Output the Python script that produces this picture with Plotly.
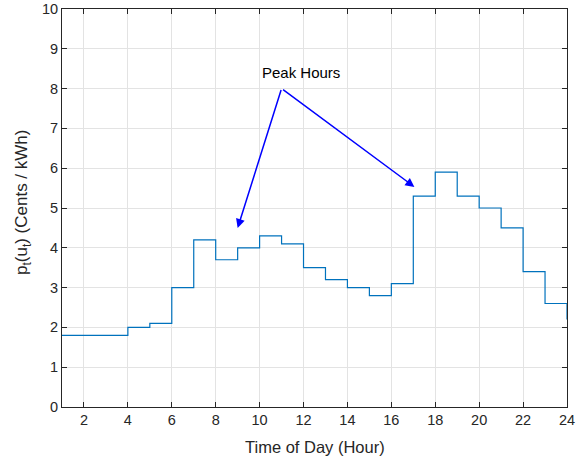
import plotly.graph_objects as go

# Hourly electricity price (cents / kWh), drawn as a staircase
hours = list(range(1, 25))
price = [1.8, 1.8, 1.8, 2.0, 2.1, 3.0, 4.2, 3.7, 4.0, 4.3, 4.1, 3.5,
         3.2, 3.0, 2.8, 3.1, 5.3, 5.9, 5.3, 5.0, 4.5, 3.4, 2.6, 2.2]

x_ticks = list(range(2, 25, 2))
y_ticks = list(range(0, 11))

x_title = "Time of Day (Hour)"
y_title = "p<sub>t</sub>(u<sub>t</sub>) (Cents / kWh)"

# Annotation: label origin and the two arrow targets
label_text = "Peak Hours"
label_pos = (11.9, 8.4)
arrow_tail = (11.0, 8.0)
arrow_heads = [(9.0, 4.5), (17.05, 5.53)]

font_family = "Liberation Sans, Arial, Helvetica, sans-serif"
text_color = "#262626"

fig = go.Figure()
fig.add_trace(go.Scatter(
    x=hours, y=price, mode="lines",
    line=dict(shape="hv", color="#0072BD", width=1.2),
    showlegend=False, hoverinfo="x+y",
))

annotations = [dict(
    x=label_pos[0], y=label_pos[1], xref="x", yref="y",
    text=label_text, showarrow=False,
    font=dict(family=font_family, size=15, color="black"),
)]
for hx, hy in arrow_heads:
    annotations.append(dict(
        x=hx, y=hy, xref="x", yref="y",
        ax=arrow_tail[0], ay=arrow_tail[1], axref="x", ayref="y",
        text="", showarrow=True,
        arrowhead=2, arrowsize=1.2, arrowwidth=1.5, arrowcolor="#0000FF",
    ))

# Axis titles placed relative to the plotting area edges
annotations.append(dict(
    x=0.5, y=0, xref="paper", yref="paper", xanchor="center", yanchor="middle",
    yshift=-40, text=x_title, showarrow=False,
    font=dict(family=font_family, size=16.5, color=text_color),
))
annotations.append(dict(
    x=0, y=0.515, xref="paper", yref="paper", xanchor="center", yanchor="middle",
    xshift=-39, textangle=-90, text=y_title, showarrow=False,
    font=dict(family=font_family, size=17, color=text_color),
))

axis_common = dict(
    showgrid=True, gridcolor="#E3E3E3", gridwidth=1,
    showline=True, linecolor=text_color, linewidth=1, mirror="ticks",
    ticks="inside", ticklen=5, tickcolor=text_color,
    tickfont=dict(family=font_family, size=14.5, color=text_color),
    zeroline=False, automargin=False,
)

fig.update_layout(
    width=576, height=463,
    margin=dict(l=62, r=9, t=9, b=56),
    paper_bgcolor="white", plot_bgcolor="white",
    font=dict(family=font_family, color=text_color),
    annotations=annotations,
    xaxis=dict(range=[1, 24], tickvals=x_ticks, **axis_common),
    yaxis=dict(range=[0, 10], tickvals=y_ticks, **axis_common),
)

fig.write_html("out.html")
